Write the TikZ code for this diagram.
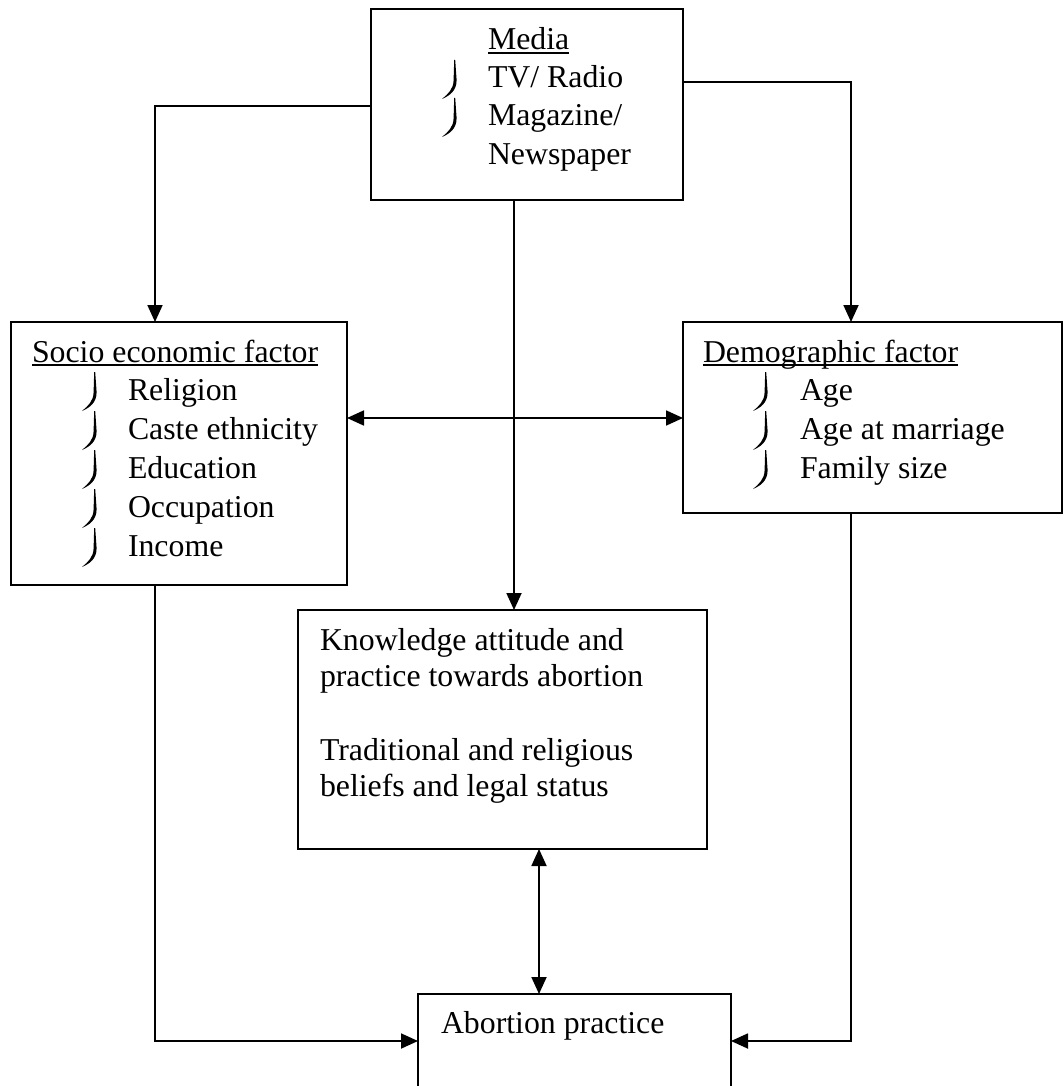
\documentclass[tikz,border=0pt]{standalone}
\usepackage{fontspec}
\setmainfont{Liberation Serif}
\usetikzlibrary{arrows.meta}
\begin{document}
\begin{tikzpicture}[x=1pt,y=-1pt,
  box/.style={draw, line width=1.8pt, rectangle, inner sep=0pt, outer sep=0pt},
  txt/.style={anchor=base west, inner sep=0pt, outer sep=0pt, font=\fontsize{31.8}{38}\selectfont},
  conn/.style={line width=1.8pt},
  arr/.style={conn, -{Triangle[length=17pt,width=15pt]}},
  dbl/.style={conn, {Triangle[length=17pt,width=15pt]}-{Triangle[length=17pt,width=15pt]}},
  uline/.style={line width=1.5pt},
  bul/.pic={\fill (13.2,-28) -- (14.6,-8) .. controls (14.8,3) and (7,8) .. (0,11)
              .. controls (6,6) and (11.6,1) .. (11.6,-8) -- (12.2,-28) -- cycle;}]
\useasboundingbox (0,0) rectangle (1063,1086);
\clip (0,0) rectangle (1063,1086);
% boxes
\node[box, minimum width=312pt, minimum height=191pt] (media) at (527,104.5) {};
\node[box, minimum width=336pt, minimum height=263pt] (socio) at (179,453.5) {};
\node[box, minimum width=379pt, minimum height=191pt] (demo) at (872.5,417.5) {};
\node[box, minimum width=409pt, minimum height=239pt] (know) at (502.5,729.5) {};
\node[box, minimum width=313pt, minimum height=116pt] (abort) at (574.5,1052) {};
% media text
\node[txt] (mt) at (488,50) {Media};
\draw[uline] ([yshift=-3pt]mt.base west) -- ([yshift=-3pt]mt.base east);
\node[txt] (m1) at (488,88) {TV/ Radio};
\node[txt] (m2) at (488,126) {Magazine/};
\node[txt] (m3) at (488,165) {Newspaper};
\pic at (442,88) {bul};
\pic at (442,126) {bul};
% socio text
\node[txt] (st) at (32,362) {Socio economic factor};
\draw[uline] ([yshift=-3pt]st.base west) -- ([yshift=-3pt]st.base east);
\node[txt] (s1) at (128,400) {Religion};
\node[txt] (s2) at (128,439) {Caste ethnicity};
\node[txt] (s3) at (128,478) {Education};
\node[txt] (s4) at (128,517) {Occupation};
\node[txt] (s5) at (128,556) {Income};
\foreach \yy in {400,439,478,517,556} {\pic at (82,\yy) {bul};}
% demo text
\node[txt] (dt) at (703,362) {Demographic factor};
\draw[uline] ([yshift=-3pt]dt.base west) -- ([yshift=-3pt]dt.base east);
\node[txt] (d1) at (800,400) {Age};
\node[txt] (d2) at (800,439) {Age at marriage};
\node[txt] (d3) at (800,478) {Family size};
\foreach \yy in {400,439,478} {\pic at (753,\yy) {bul};}
% knowledge text
\node[txt] (k1) at (320,650) {Knowledge attitude and};
\node[txt] (k2) at (320,686) {practice towards abortion};
\node[txt] (k3) at (320,760) {Traditional and religious};
\node[txt] (k4) at (320,796) {beliefs and legal status};
% abortion text
\node[txt] (a1) at (441,1033) {Abortion practice};
% helper coordinates
\coordinate (colL) at (155,0);
\coordinate (colR) at (851,0);
\coordinate (colM) at (514,0);
\coordinate (colK) at (539,0);
\coordinate (rowA) at (0,106);
\coordinate (rowB) at (0,82);
\coordinate (rowC) at (0,418);
\coordinate (rowD) at (0,1041);
% connectors
\draw[arr] (media.west |- rowA) -| (socio.north -| colL);
\draw[arr] (media.east |- rowB) -| (demo.north -| colR);
\draw[arr] (media.south -| colM) -- (know.north -| colM);
\draw[dbl] (socio.east |- rowC) -- (demo.west |- rowC);
\draw[dbl] (know.south -| colK) -- (abort.north -| colK);
\draw[arr] (socio.south -| colL) |- (abort.west |- rowD);
\draw[arr] (demo.south -| colR) |- (abort.east |- rowD);
\end{tikzpicture}
\end{document}
